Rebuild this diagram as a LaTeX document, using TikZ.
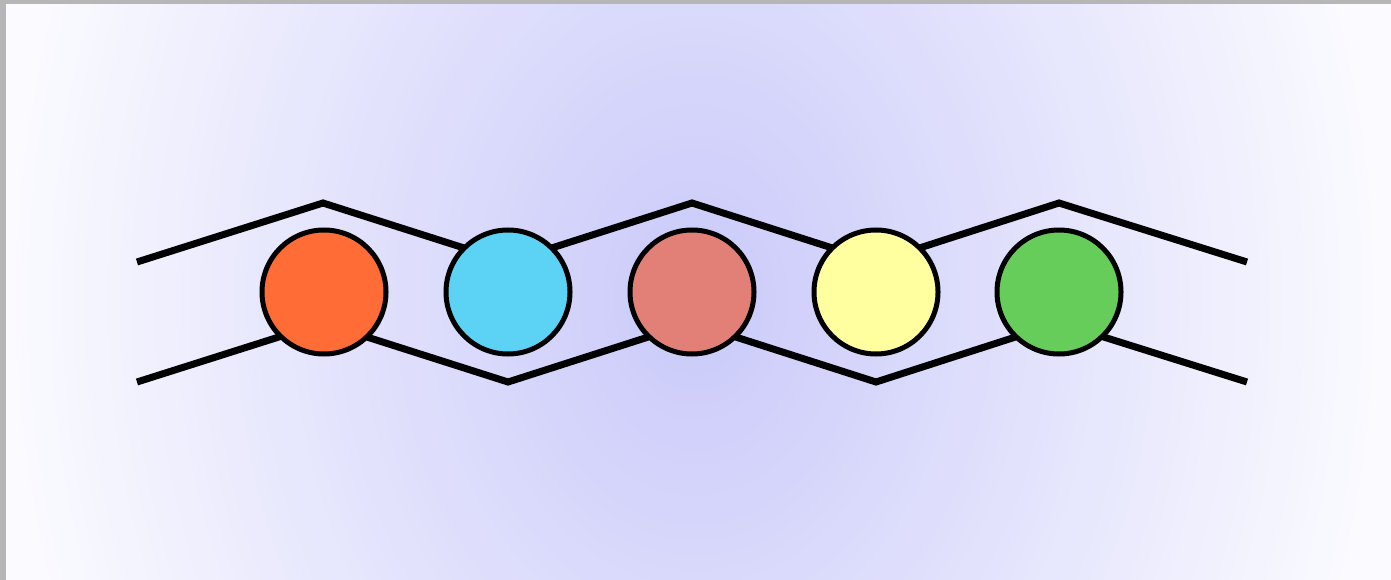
\documentclass[tikz,border=0pt]{standalone}
\definecolor{bgc}{RGB}{202,202,250}
\definecolor{bgo}{RGB}{250,250,255}
\definecolor{frame}{RGB}{182,182,182}
\definecolor{cOrange}{RGB}{255,108,54}
\definecolor{cBlue}{RGB}{92,210,245}
\definecolor{cSalmon}{RGB}{226,128,120}
\definecolor{cYellow}{RGB}{255,255,160}
\definecolor{cGreen}{RGB}{102,204,90}
\tikzset{
  ball/.style={circle, draw=black, line width=5pt, minimum size=124pt, inner sep=0pt},
  chain/.style={draw=black, line width=7pt, miter limit=10}
}
\begin{document}
\begin{tikzpicture}[x=1pt,y=-1pt]
\useasboundingbox (0,0) rectangle (1391,580);
\fill[bgo] (0,0) rectangle (1391,580);
\begin{scope}
\clip (0,0) rectangle (1391,580);
\foreach \i in {0,...,59} {
  \pgfmathsetmacro\fr{1-\i/60}
  \pgfmathsetmacro\pc{100*\i/59}
  \pgfmathsetmacro\rx{690*\fr}
  \pgfmathsetmacro\ry{900*\fr}
  \fill[bgc!\pc!bgo] (695,300) ellipse [x radius=\rx, y radius=\ry];
}
\end{scope}
\fill[frame] (0,0) rectangle (1391,4);
\fill[frame] (0,0) rectangle (6,580);
% zigzag coordinates
\coordinate (t0) at (137,262);
\coordinate (t1) at (323,203);
\coordinate (t2) at (508,262);
\coordinate (t3) at (692,203);
\coordinate (t4) at (876,262);
\coordinate (t5) at (1059,203);
\coordinate (t6) at (1247,262);
\coordinate (b0) at (137,382);
\coordinate (b1) at (323,323);
\coordinate (b2) at (508,382);
\coordinate (b3) at (692,323);
\coordinate (b4) at (876,382);
\coordinate (b5) at (1059,323);
\coordinate (b6) at (1247,382);
\draw[chain] (t0) -- (t1) -- (t2) -- (t3) -- (t4) -- (t5) -- (t6);
\draw[chain] (b0) -- (b1) -- (b2) -- (b3) -- (b4) -- (b5) -- (b6);
\node[ball, fill=cOrange] (c1) at (324,292) {};
\node[ball, fill=cBlue] (c2) at (508,292) {};
\node[ball, fill=cSalmon] (c3) at (692,292) {};
\node[ball, fill=cYellow] (c4) at (876,292) {};
\node[ball, fill=cGreen] (c5) at (1059,292) {};
\end{tikzpicture}
\end{document}
